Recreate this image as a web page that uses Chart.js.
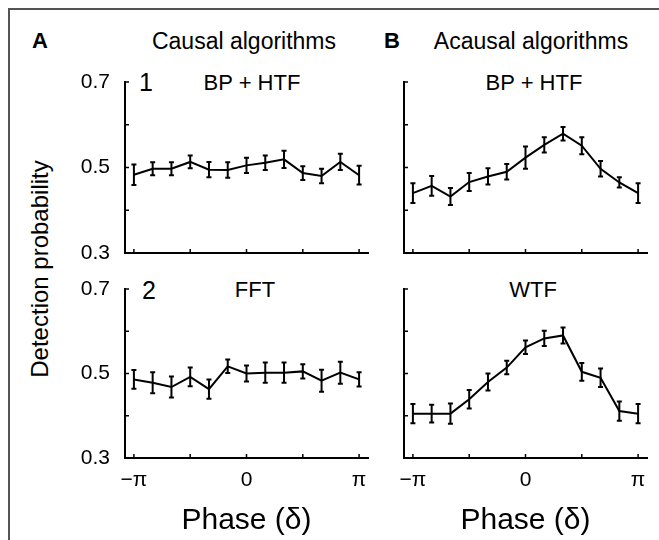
<!DOCTYPE html>
<html><head><meta charset="utf-8">
<script src="https://cdn.jsdelivr.net/npm/chart.js@4.4.0/dist/chart.umd.min.js"></script>
<style>
html,body{margin:0;padding:0;background:#fff;}
#page{position:relative;width:659px;height:540px;overflow:hidden;background:#fff;font-family:"Liberation Sans",Arial,sans-serif;color:#000;}
.frame{position:absolute;left:8px;top:8px;width:700px;height:600px;border-top:2px solid #555;border-left:2px solid #555;}
.t{position:absolute;transform:translate(-50%,-50%);line-height:1;white-space:nowrap;}
canvas{position:absolute;}
</style></head><body>
<div id="page">
  <div class="frame"></div>
  <div class="t" style="left:40px;top:41px;font-size:22px;font-weight:bold">A</div>
  <div class="t" style="left:244px;top:41px;font-size:23px">Causal algorithms</div>
  <div class="t" style="left:392px;top:41px;font-size:22px;font-weight:bold">B</div>
  <div class="t" style="left:531px;top:41px;font-size:23px">Acausal algorithms</div>
  <div class="t" style="left:40px;top:269px;font-size:24px;transform:translate(-50%,-50%) rotate(-90deg)">Detection probability</div>
  <div class="t" style="left:146px;top:82px;font-size:25px">1</div>
  <div class="t" style="left:252px;top:83px;font-size:22px">BP + HTF</div>
  <div class="t" style="left:534px;top:83px;font-size:22px">BP + HTF</div>
  <div class="t" style="left:149px;top:290px;font-size:25px">2</div>
  <div class="t" style="left:255px;top:290px;font-size:22px">FFT</div>
  <div class="t" style="left:533px;top:290px;font-size:22px">WTF</div>
  <canvas id="c1" width="320" height="210" style="left:60px;top:60px"></canvas>
  <canvas id="c2" width="279" height="210" style="left:380px;top:60px"></canvas>
  <canvas id="c3" width="320" height="270" style="left:60px;top:270px"></canvas>
  <canvas id="c4" width="279" height="270" style="left:380px;top:270px"></canvas>
</div>
<script>
const phases = [-3.1416, -2.618, -2.0944, -1.5708, -1.0472, -0.5236, 0, 0.5236, 1.0472, 1.5708, 2.0944, 2.618, 3.1416];

const causalBpHtf    = [0.483, 0.497, 0.497, 0.513, 0.495, 0.494, 0.505, 0.511, 0.519, 0.487, 0.480, 0.513, 0.482];
const causalBpHtfErr = [0.024, 0.015, 0.015, 0.015, 0.018, 0.018, 0.018, 0.017, 0.020, 0.016, 0.017, 0.019, 0.022];

const acausalBpHtf    = [0.440, 0.457, 0.432, 0.466, 0.479, 0.490, 0.523, 0.553, 0.579, 0.551, 0.497, 0.465, 0.440];
const acausalBpHtfErr = [0.023, 0.023, 0.020, 0.021, 0.019, 0.018, 0.026, 0.018, 0.016, 0.020, 0.018, 0.012, 0.023];

const causalFft    = [0.486, 0.478, 0.468, 0.492, 0.463, 0.517, 0.500, 0.502, 0.502, 0.505, 0.483, 0.502, 0.486];
const causalFftErr = [0.022, 0.025, 0.025, 0.022, 0.023, 0.016, 0.019, 0.024, 0.024, 0.017, 0.026, 0.026, 0.017];

const acausalWtf    = [0.405, 0.405, 0.405, 0.439, 0.480, 0.514, 0.562, 0.583, 0.590, 0.504, 0.490, 0.411, 0.405];
const acausalWtfErr = [0.023, 0.021, 0.024, 0.022, 0.020, 0.016, 0.016, 0.018, 0.019, 0.021, 0.022, 0.023, 0.023];

const xTickValues = [-3.1416, -1.5708, 0, 1.5708, 3.1416];
const xTickLabels = ['\u2212\u03c0', '', '0', '', '\u03c0'];
const yTickValues = [0.3, 0.4, 0.5, 0.6, 0.7];
const yTickLabels = ['0.3', '', '0.5', '', '0.7'];

const FONT = '"Liberation Sans", Arial, sans-serif';

const marksPlugin = {
  id: 'marks',
  afterDatasetsDraw(chart) {
    const ctx = chart.ctx, xs = chart.scales.x, ys = chart.scales.y, ca = chart.chartArea;
    const ds = chart.data.datasets[0];
    ctx.save();
    ctx.strokeStyle = '#000';
    ctx.lineWidth = 2;
    ds.data.forEach((p, i) => {
      const e = ds.errors[i];
      const px = xs.getPixelForValue(p.x);
      const y1 = ys.getPixelForValue(p.y - e), y2 = ys.getPixelForValue(p.y + e);
      ctx.beginPath();
      ctx.moveTo(px, y1); ctx.lineTo(px, y2);
      ctx.moveTo(px - 2.5, y1); ctx.lineTo(px + 2.5, y1);
      ctx.moveTo(px - 2.5, y2); ctx.lineTo(px + 2.5, y2);
      ctx.stroke();
    });
    ctx.lineWidth = 1.5;
    yTickValues.forEach(v => {
      const py = ys.getPixelForValue(v);
      ctx.beginPath(); ctx.moveTo(ca.left, py); ctx.lineTo(ca.left + 4, py); ctx.stroke();
    });
    xTickValues.forEach(v => {
      const px = xs.getPixelForValue(v);
      ctx.beginPath(); ctx.moveTo(px, ca.bottom); ctx.lineTo(px, ca.bottom - 4); ctx.stroke();
    });
    ctx.restore();
  }
};

function makePanel(id, values, errors, o) {
  new Chart(document.getElementById(id), {
    type: 'line',
    data: {
      datasets: [{
        data: phases.map((x, i) => ({x: x, y: values[i]})),
        errors: errors,
        borderColor: '#000',
        borderWidth: 2,
        pointRadius: 0,
        tension: 0,
        fill: false
      }]
    },
    options: {
      responsive: false,
      animation: false,
      layout: {padding: {top: o.padTop, right: o.padRight, left: 0, bottom: 0}},
      plugins: {legend: {display: false}, tooltip: {enabled: false}},
      scales: {
        x: {
          type: 'linear', min: -3.39, max: 3.39,
          grid: {display: false, drawTicks: false},
          border: {display: true, color: '#000', width: 2},
          afterBuildTicks: s => { s.ticks = xTickValues.map(v => ({value: v})); },
          ticks: {display: o.showX, autoSkip: false, maxRotation: 0, padding: 10, color: '#000',
                  font: {family: FONT, size: 21}, callback: (v, i) => xTickLabels[i]},
          title: {display: o.showX, text: 'Phase (\u03b4)', color: '#000',
                  font: {family: FONT, size: 30}, padding: {top: 0, bottom: 1}},
          afterFit: s => { s.height = o.xHeight; s.paddingLeft = 0; s.paddingRight = 0; }
        },
        y: {
          type: 'linear', min: 0.3, max: 0.7,
          grid: {display: false, drawTicks: false},
          border: {display: true, color: '#000', width: 2},
          afterBuildTicks: s => { s.ticks = yTickValues.map(v => ({value: v})); },
          ticks: {display: o.showY, padding: 15, color: '#000',
                  font: {family: FONT, size: 21}, callback: (v, i) => yTickLabels[i]},
          afterFit: s => { s.width = o.yWidth; s.paddingTop = 0; s.paddingBottom = 0; }
        }
      }
    },
    plugins: [marksPlugin]
  });
}

makePanel('c1', causalBpHtf, causalBpHtfErr, {padTop: 22, padRight: 12, xHeight: 17, yWidth: 65, showX: false, showY: true});
makePanel('c2', acausalBpHtf, acausalBpHtfErr, {padTop: 22, padRight: 12, xHeight: 17, yWidth: 24, showX: false, showY: false});
makePanel('c3', causalFft, causalFftErr, {padTop: 19, padRight: 12, xHeight: 82, yWidth: 65, showX: true, showY: true});
makePanel('c4', acausalWtf, acausalWtfErr, {padTop: 19, padRight: 12, xHeight: 82, yWidth: 24, showX: true, showY: false});
</script>
</body></html>
